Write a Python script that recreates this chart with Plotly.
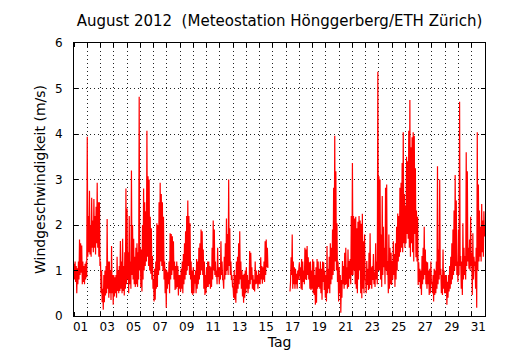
import plotly.graph_objects as go

# Wind speed (m/s), hourly samples per day (00h ... 23h)
d01 = [1.15, 0.8, 1.2, 0.75, 1.1, 0.5, 1.05, 0.7, 1.2, 0.8, 1.68, 0.9, 1.6, 0.95, 1.55, 0.7, 1.2, 0.75, 1.1, 0.7, 1.15, 0.8, 1.2, 0.85]
d02 = [3.94, 1.3, 2.2, 1.4, 2.75, 1.35, 2.0, 1.3, 2.6, 1.5, 2.1, 1.4, 2.57, 1.5, 2.2, 1.35, 2.4, 1.6, 2.93, 1.5, 2.5, 1.3, 2.5, 1.1]
d03 = [1.2, 0.5, 1.0, 0.3, 0.6, 0.14, 0.9, 0.3, 1.0, 0.45, 1.1, 0.5, 2.13, 0.6, 1.2, 0.4, 1.2, 0.5, 1.0, 0.35, 1.54, 0.5, 0.9, 0.25]
d04 = [0.9, 0.43, 0.85, 0.5, 0.9, 0.4, 1.3, 0.55, 1.0, 0.5, 1.1, 0.55, 1.65, 0.6, 1.2, 0.5, 1.7, 0.55, 1.1, 0.45, 1.4, 0.6, 2.8, 0.7]
d05 = [2.36, 0.8, 1.4, 0.5, 2.2, 0.7, 1.2, 0.6, 3.2, 0.9, 2.0, 0.8, 1.7, 0.7, 1.3, 0.64, 1.5, 0.7, 1.6, 0.64, 1.4, 0.8, 4.82, 1.0]
d06 = [1.5, 0.64, 1.46, 0.54, 2.0, 0.8, 2.8, 1.0, 2.5, 1.1, 2.3, 1.2, 4.07, 1.3, 3.07, 1.1, 3.0, 1.0, 2.18, 0.93, 1.93, 0.8, 1.32, 0.6]
d07 = [0.8, 0.32, 1.04, 0.36, 1.2, 0.6, 2.04, 0.64, 2.0, 0.9, 2.5, 1.0, 2.93, 1.2, 2.68, 1.1, 2.5, 1.0, 2.18, 0.8, 1.2, 0.5, 1.04, 0.18]
d08 = [1.0, 0.6, 0.96, 0.7, 1.2, 0.5, 1.82, 0.8, 1.8, 0.9, 1.75, 1.0, 1.64, 0.8, 1.2, 0.57, 1.1, 0.6, 1.2, 0.64, 1.1, 0.45, 0.9, 0.6]
d09 = [0.9, 0.54, 1.04, 0.6, 1.2, 0.5, 1.36, 0.7, 1.6, 0.8, 1.86, 0.9, 2.2, 1.0, 2.54, 1.1, 2.2, 0.9, 2.04, 0.8, 1.2, 0.5, 1.0, 0.46]
d10 = [1.07, 0.5, 0.9, 0.71, 1.0, 0.5, 1.25, 0.6, 1.2, 0.7, 1.5, 0.8, 1.6, 0.9, 1.9, 1.0, 1.86, 0.9, 1.46, 0.6, 1.2, 0.46, 0.9, 0.5]
d11 = [1.07, 0.64, 1.2, 0.64, 1.2, 0.7, 1.1, 0.6, 1.07, 0.64, 1.5, 0.8, 2.1, 1.0, 1.9, 0.9, 1.2, 0.86, 1.0, 0.7, 1.5, 0.86, 1.07, 0.7]
d12 = [1.07, 0.8, 1.64, 0.9, 1.2, 0.8, 0.79, 0.6, 1.3, 0.8, 1.6, 0.9, 2.14, 1.0, 1.8, 0.9, 3.0, 1.1, 1.93, 0.9, 1.2, 0.79, 0.9, 0.64]
d13 = [0.64, 0.4, 1.0, 0.36, 0.9, 0.29, 1.2, 0.5, 1.3, 0.6, 1.6, 0.7, 1.86, 0.8, 1.2, 0.6, 1.0, 0.43, 0.9, 0.29, 0.93, 0.4, 1.0, 0.5]
d14 = [1.07, 0.6, 0.9, 0.5, 0.79, 0.6, 1.43, 0.7, 1.39, 0.8, 1.07, 0.6, 0.9, 0.57, 0.8, 0.54, 1.2, 0.7, 1.0, 0.71, 0.9, 0.6, 1.0, 0.7]
d15 = [0.93, 0.7, 1.29, 0.8, 1.1, 0.71, 1.07, 0.8, 1.2, 0.75, 1.64, 0.9, 1.68, 1.07, 1.5, 1.07, 1.07,
       None, None, None, None, None, None, None]
d16 = [None] * 24
d17 = [None, None, None, None, None, None, None,
       0.54, 0.75, 1.29, 0.9, 1.79, 0.6, 1.2, 0.7, 1.07, 0.6, 1.04, 0.7, 0.93, 0.6, 1.0, 0.79, 1.04]
d18 = [1.18, 0.8, 1.07, 0.6, 1.25, 0.57, 1.2, 0.75, 1.0, 0.7, 1.5, 0.8, 1.46, 0.79, 1.54, 0.9, 1.29, 0.8, 1.18, 0.6, 1.2, 0.57, 1.0, 0.6]
d19 = [1.25, 0.5, 1.2, 0.46, 0.9, 0.25, 1.07, 0.29, 1.25, 0.6, 1.2, 0.64, 1.04, 0.6, 1.2, 0.5, 1.04, 0.36, 1.2, 0.75, 1.18, 0.57, 1.0, 0.4]
d20 = [0.9, 0.32, 1.54, 0.5, 1.04, 0.6, 1.3, 0.5, 1.6, 0.7, 1.5, 0.8, 1.9, 0.9, 2.82, 1.0, 3.96, 1.2, 3.18, 1.0, 2.04, 0.75, 1.2, 0.32]
d21 = [1.07, 0.5, 0.9, 0.07, 0.79, 0.4, 1.21, 0.7, 1.1, 0.6, 1.39, 0.68, 1.5, 0.7, 1.07, 0.6, 1.46, 0.64, 1.21, 0.82, 1.25, 0.7, 2.2, 0.9]
d22 = [3.36, 0.9, 2.2, 1.0, 2.14, 0.7, 2.18, 0.6, 1.93, 0.5, 2.07, 0.8, 2.2, 1.0, 2.1, 0.5, 2.03, 0.39, 2.25, 0.6, 1.64, 0.5, 1.79, 0.8]
d23 = [0.79, 0.5, 1.21, 0.68, 1.04, 0.57, 1.39, 0.6, 1.82, 0.68, 1.07, 0.6, 1.1, 0.79, 1.36, 0.7, 0.96, 0.64, 1.6, 0.8, 1.2, 0.7, 5.37, 1.0]
d24 = [3.07, 1.0, 3.0, 0.8, 1.79, 0.64, 2.64, 0.9, 1.96, 1.07, 1.5, 0.7, 2.82, 1.0, 2.89, 0.9, 1.21, 0.5, 1.79, 0.6, 1.5, 0.7, 1.39, 0.68]
d25 = [1.21, 0.8, 1.64, 0.9, 1.36, 0.64, 1.6, 0.8, 1.96, 1.0, 2.25, 1.2, 2.2, 1.3, 2.82, 1.4, 2.93, 1.5, 3.36, 1.4, 4.04, 1.6, 2.68, 1.5]
d26 = [2.43, 1.6, 3.5, 1.8, 3.4, 1.7, 4.07, 1.5, 4.75, 1.3, 3.71, 1.6, 3.93, 1.4, 4.04, 1.2, 3.96, 1.8, 3.25, 1.29, 2.32, 1.2, 2.18, 0.68]
d27 = [1.18, 0.75, 1.04, 0.6, 1.0, 0.46, 1.32, 0.7, 1.5, 0.8, 1.96, 0.9, 1.46, 0.7, 1.2, 0.6, 1.18, 0.7, 1.0, 0.46, 1.04, 0.5, 1.2, 0.7]
d28 = [0.75, 0.5, 0.9, 0.32, 1.04, 0.46, 1.0, 0.5, 1.2, 0.6, 3.29, 0.7, 1.46, 0.8, 3.0, 0.9, 1.04, 0.5, 0.9, 0.46, 1.46, 0.6, 1.0, 0.5]
d29 = [0.89, 0.5, 0.9, 0.25, 0.75, 0.4, 0.9, 0.54, 1.1, 0.6, 1.3, 0.7, 1.6, 0.8, 1.9, 0.9, 2.32, 1.0, 3.1, 1.1, 2.54, 0.9, 1.2, 0.75]
d30 = [1.9, 0.9, 4.71, 1.1, 1.32, 0.6, 1.2, 0.46, 2.04, 0.8, 1.5, 0.9, 1.32, 0.8, 3.6, 1.1, 3.18, 1.2, 1.5, 1.04, 1.68, 1.0, 2.18, 1.1]
d31 = [1.39, 0.46, 1.82, 0.8, 1.3, 1.1, 1.2, 0.6, 1.5, 0.18, 4.04, 1.0, 2.89, 1.2, 2.32, 1.3, 1.96, 1.2, 2.46, 1.4, 2.1, 1.3, 2.3, 1.75]
end_value = [2.0]

day_labels = ["%02d" % d for d in range(1, 32, 2)]
samples_per_day = 24

days = [d01, d02, d03, d04, d05, d06, d07, d08, d09, d10, d11, d12, d13, d14, d15, d16,
        d17, d18, d19, d20, d21, d22, d23, d24, d25, d26, d27, d28, d29, d30, d31]
speed = [v for day in days for v in day] + end_value
time = [i / samples_per_day for i in range(len(speed))]  # days since 1 Aug 00:00

font = "DejaVu Sans"
grid = dict(showgrid=True, gridcolor="#222", gridwidth=0.8, griddash="1px,3px")

fig = go.Figure(go.Scatter(x=time, y=speed, mode="lines",
                           line=dict(color="#ff0000", width=1.2),
                           connectgaps=False, hoverinfo="skip"))

fig.update_layout(
    width=530, height=350,
    margin=dict(l=66, r=53, t=35, b=35),
    paper_bgcolor="white", plot_bgcolor="white",
    showlegend=False,
    font=dict(family=font, size=12, color="black"),
    title=dict(text="August 2012  (Meteostation Hönggerberg/ETH Zürich)",
               font=dict(family=font, size=15, color="black"),
               x=0.5, xref="paper", xanchor="center",
               y=1 - 18 / 350, yref="container", yanchor="bottom"),
    xaxis=dict(range=[0, 31], tickmode="array",
               tickvals=[d - 0.5 for d in range(1, 32, 2)], ticktext=day_labels,
               ticks="", showgrid=False, zeroline=False,
               showline=True, linecolor="black", linewidth=1, mirror="ticks",
               minor=dict(tickmode="array", tickvals=list(range(0, 32)),
                          ticks="inside", ticklen=4, tickcolor="black", tickwidth=1,
                          **grid),
               title=dict(text="Tag", standoff=2),
               tickfont=dict(size=12)),
    yaxis=dict(range=[0, 6], tickmode="array", tickvals=list(range(0, 7)),
               ticks="inside", ticklen=4, tickcolor="black", tickwidth=1,
               ticklabelstandoff=8,
               zeroline=False, showline=True, linecolor="black", linewidth=1,
               mirror="ticks",
               title=dict(text="Windgeschwindigkeit (m/s)", standoff=6),
               tickfont=dict(size=12), **grid),
)

fig.write_html("out.html")
